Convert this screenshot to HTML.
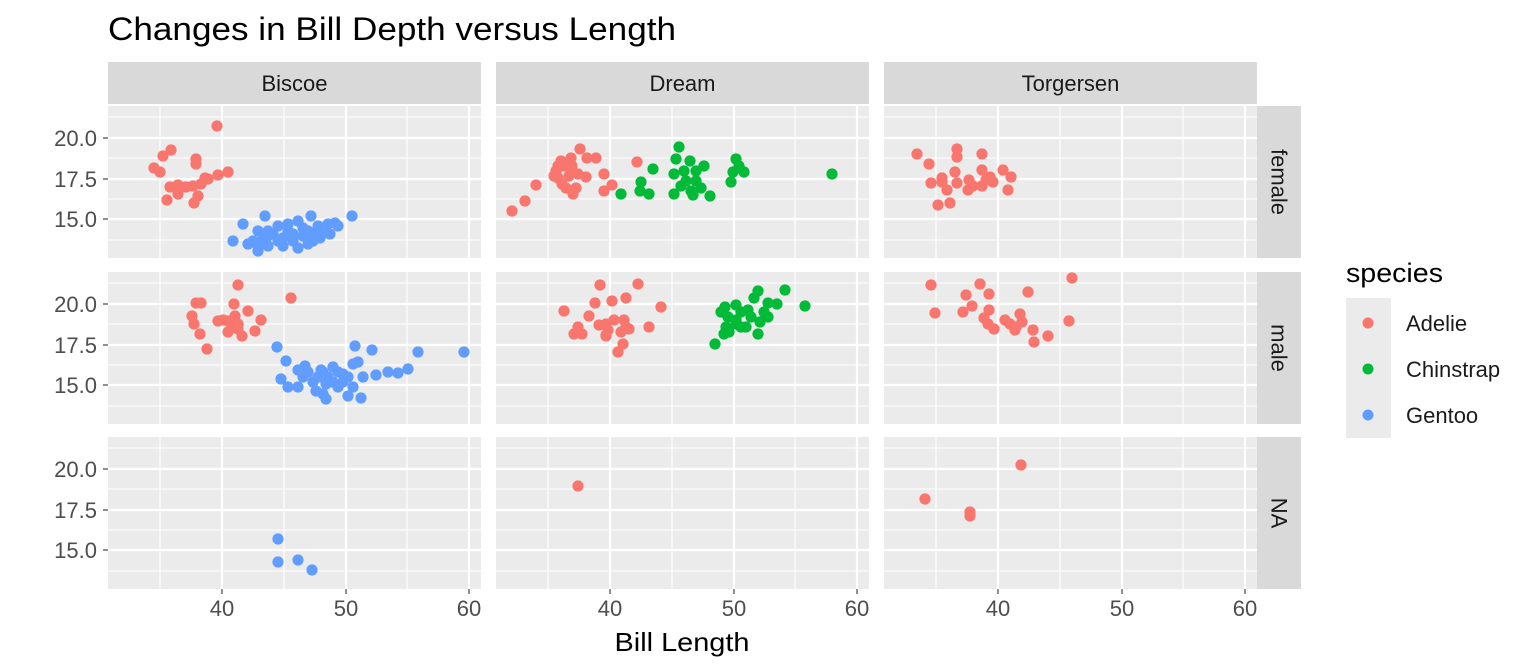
<!DOCTYPE html>
<html><head><meta charset="utf-8"><style>
html,body{margin:0;padding:0;background:#fff;}
svg{display:block;font-family:"Liberation Sans",Arial,sans-serif;}
</style></head><body>
<svg id="s" width="1536" height="672" xmlns="http://www.w3.org/2000/svg">
<text x="108" y="40" font-size="32" textLength="568" lengthAdjust="spacingAndGlyphs" fill="#000">Changes in Bill Depth versus Length</text>
<g id="g"></g>
<text x="682" y="651" font-size="26" text-anchor="middle" textLength="135" lengthAdjust="spacingAndGlyphs" fill="#000">Bill Length</text>
<text x="1346" y="282" font-size="27" textLength="97" lengthAdjust="spacingAndGlyphs" fill="#000">species</text>
<rect x="1346" y="298" width="45" height="140" fill="#ebebeb"/>
<circle cx="1368" cy="323" r="5.5" fill="#F8766D"/>
<circle cx="1368" cy="369" r="5.5" fill="#00BA38"/>
<circle cx="1368" cy="415" r="5.5" fill="#619CFF"/>
<text x="1406" y="331" font-size="22" fill="#1a1a1a">Adelie</text>
<text x="1406" y="377" font-size="22" fill="#1a1a1a">Chinstrap</text>
<text x="1406" y="423" font-size="22" fill="#1a1a1a">Gentoo</text>
</svg>
<script>
var ns="http://www.w3.org/2000/svg",g=document.getElementById("g");
function el(t,a,txt){var e=document.createElementNS(ns,t);for(var k in a)e.setAttribute(k,a[k]);if(txt)e.textContent=txt;g.appendChild(e);return e;}
var cols=[108,496,884],rows=[106,272,437],W=373,H=152;
var names=["Biscoe","Dream","Torgersen"],rn=["female","male","NA"];
cols.forEach(function(cx,i){
 el("rect",{x:cx,y:62,width:W,height:42,fill:"#d9d9d9"});
 el("text",{x:cx+W/2,y:91,"font-size":22,"text-anchor":"middle",fill:"#1a1a1a"},names[i]);
 rows.forEach(function(ry){
  el("rect",{x:cx,y:ry,width:W,height:H,fill:"#ebebeb"});
  [52,176,299].forEach(function(x){el("line",{x1:cx+x,x2:cx+x,y1:ry,y2:ry+H,stroke:"#fff","stroke-width":1.1});});
  [11,52,93,134].forEach(function(y){el("line",{x1:cx,x2:cx+W,y1:ry+y,y2:ry+y,stroke:"#fff","stroke-width":1.1});});
  [114,238,361].forEach(function(x){el("line",{x1:cx+x,x2:cx+x,y1:ry,y2:ry+H,stroke:"#fff","stroke-width":2.2});});
  [32,73,113].forEach(function(y){el("line",{x1:cx,x2:cx+W,y1:ry+y,y2:ry+y,stroke:"#fff","stroke-width":2.2});});
 });
 [["40",114],["50",238],["60",361]].forEach(function(t){
  el("line",{x1:cx+t[1],x2:cx+t[1],y1:589,y2:594,stroke:"#333","stroke-width":1.1});
  el("text",{x:cx+t[1],y:616,"font-size":22,"text-anchor":"middle",fill:"#4d4d4d"},t[0]);
 });
});
rows.forEach(function(ry,j){
 el("rect",{x:1257,y:ry,width:44,height:H,fill:"#d9d9d9"});
 el("text",{x:1279,y:ry+H/2,"font-size":22,"text-anchor":"middle",fill:"#1a1a1a",transform:"rotate(90 1279 "+(ry+H/2)+")",dy:"0.35em"},rn[j]);
 [["20.0",32],["17.5",73],["15.0",113]].forEach(function(t){
  el("line",{x1:103,x2:108,y1:ry+t[1],y2:ry+t[1],stroke:"#333","stroke-width":1.1});
  el("text",{x:97,y:ry+t[1]+8,"font-size":22,"text-anchor":"end",fill:"#4d4d4d"},t[0]);
 });
});
var R="#F8766D",G="#00BA38",B="#619CFF";
function pts(c,r,col,arr,abs){arr.forEach(function(p){var x=abs?p[0]:cols[c]+p[0],y=abs?p[1]:rows[r]+p[1];el("circle",{cx:x,cy:y,r:5.6,fill:col});});}
pts(0,0,R,[[109,20],[63,44],[55,50],[88,53],[88,58],[46,62],[52,66],[120,66],[110,69],[100,73],[93,78],[85,80],[70,79],[62,81],[70,88],[59,94],[90,90],[86,97],[97,72],[78,81]]);
pts(0,0,B,[[203,110],[244,110],[157,110],[135,118],[125,135],[140,138],[150,145],[160,130],[170,120],[180,118],[190,115],[200,125],[210,120],[220,118],[227,117],[222,128],[175,140],[190,142],[205,135],[150,125],[165,128],[185,128],[195,130],[215,125],[175,132],[155,132],[145,135],[200,138],[160,140],[230,120],[180,125],[170,135],[185,135],[195,122],[205,128],[212,132],[160,125],[150,140]]);
pts(0,1,R,[[130,13],[88,31],[93,31],[183,26],[126,32],[140,39],[127,44],[84,44],[153,48],[86,52],[110,49],[120,49],[125,55],[130,52],[130,57],[92,62],[147,59],[134,64],[99,77],[115,48],[120,60]]);
pts(0,1,B,[[169,75],[247,74],[264,78],[310,80],[356,80],[178,89],[197,94],[190,98],[300,97],[290,101],[280,100],[268,103],[173,107],[180,115],[190,115],[205,110],[215,122],[208,119],[218,127],[240,124],[253,126],[235,110],[230,100],[220,105],[245,92],[250,90],[225,95],[210,105],[195,105],[245,115],[230,115],[218,112],[240,105],[255,105],[200,100],[213,98],[225,110],[235,102],[215,100]]);
pts(1,0,R,[[16,105],[29,95],[40,79],[84,43],[100,52],[91,52],[65,55],[75,52],[62,60],[60,65],[62,72],[66,78],[70,82],[77,88],[80,82],[73,70],[82,68],[90,71],[108,68],[108,85],[116,79],[141,56],[68,60],[58,70],[76,60]]);
pts(1,0,G,[[125,88],[144,85],[153,88],[145,76],[157,63],[183,41],[180,53],[194,55],[178,68],[190,75],[185,80],[200,75],[195,85],[178,88],[197,89],[205,82],[214,90],[208,60],[240,53],[243,60],[237,66],[248,66],[235,76],[336,68],[188,65],[200,65]]);
pts(1,1,R,[[104,13],[142,12],[68,39],[99,31],[116,29],[130,26],[165,35],[93,44],[110,52],[103,53],[82,55],[78,62],[86,62],[112,58],[118,48],[128,48],[130,55],[133,57],[125,60],[110,64],[153,55],[127,72],[122,80],[110,63]]);
pts(1,1,G,[[219,72],[228,62],[233,60],[240,52],[262,19],[289,18],[258,26],[281,32],[309,34],[272,31],[240,33],[229,35],[225,40],[232,45],[245,40],[255,45],[264,50],[250,55],[262,62],[252,38],[240,48],[245,55],[268,40],[230,55],[272,45]]);
pts(0,0,R,[[917,154],[929,164],[931,183],[942,178],[938,205],[947,190],[942,182],[957,149],[957,157],[955,172],[957,183],[969,180],[968,190],[973,186],[982,154],[982,170],[982,186],[986,180],[990,177],[993,182],[1003,170],[1011,177],[1008,190],[950,203]],true);
pts(0,0,R,[[1072,278],[931,285],[980,284],[1028,292],[935,313],[966,295],[963,312],[989,294],[989,310],[972,306],[988,324],[994,329],[1005,320],[1010,324],[1016,327],[1020,314],[1022,322],[1033,330],[1034,342],[1048,336],[1069,321],[984,318],[1015,330]],true);
pts(0,0,B,[[278,539],[278,562],[298,560],[312,570]],true);
pts(0,0,R,[[578,486],[925,499],[1021,465],[970,512],[970,516]],true);
</script>
</body></html>
